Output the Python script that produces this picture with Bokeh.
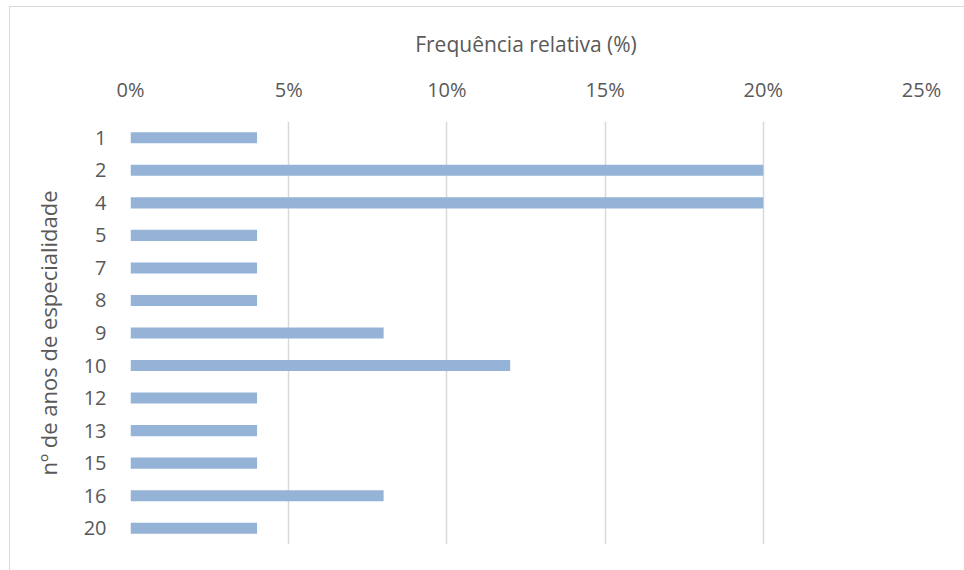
from bokeh.plotting import figure
from bokeh.models import FactorRange, Range1d, FixedTicker, PrintfTickFormatter
from bokeh.embed import file_html
from bokeh.resources import INLINE

# Years of specialty and the relative frequency (%) of each
anos = ["1", "2", "4", "5", "7", "8", "9", "10", "12", "13", "15", "16", "20"]
frequencia = [4, 20, 20, 4, 4, 4, 8, 12, 4, 4, 4, 8, 4]
ticks_x = [0, 5, 10, 15, 20, 25]

FONT = "Open Sans"
TXT = "#595959"
GRID = "#D9D9D9"

p = figure(
    width=955, height=564,
    y_range=FactorRange(factors=list(reversed(anos))),
    x_range=Range1d(0, 25),
    x_axis_location="above",
    output_backend="svg", toolbar_location=None,
    min_border_left=120, min_border_right=44,
    min_border_top=114, min_border_bottom=27,
)
p.margin = (6, 0, 0, 9)
p.styles = {"border-left": "1px solid #d9d9d9", "border-top": "1px solid #d9d9d9"}
p.outline_line_color = None
p.background_fill_color = "white"
p.border_fill_color = "white"

p.hbar(y=anos, right=frequencia, left=0, height=0.34,
       fill_color="#95B3D7", line_color=None)

# horizontal value axis on top
xa = p.xaxis[0]
xa.ticker = FixedTicker(ticks=ticks_x)
xa.formatter = PrintfTickFormatter(format="%d%%")
xa.axis_label = "Frequência relativa (%)"
xa.axis_line_color = None
xa.major_tick_line_color = None
xa.minor_tick_line_color = None
xa.major_label_standoff = 13
xa.axis_label_standoff = 15
xa.major_label_text_font = FONT
xa.major_label_text_font_size = "20px"
xa.major_label_text_color = TXT
xa.axis_label_text_font = FONT
xa.axis_label_text_font_size = "21px"
xa.axis_label_text_font_style = "normal"
xa.axis_label_text_color = TXT

ya = p.yaxis[0]
ya.axis_label = "nº de anos de especialidade"
ya.axis_line_color = None
ya.major_tick_line_color = None
ya.minor_tick_line_color = None
ya.major_label_standoff = 18
ya.axis_label_standoff = 18
ya.major_label_text_font = FONT
ya.major_label_text_font_size = "20px"
ya.major_label_text_color = TXT
ya.axis_label_text_font = FONT
ya.axis_label_text_font_size = "22px"
ya.axis_label_text_font_style = "normal"
ya.axis_label_text_color = TXT

p.xgrid.grid_line_color = GRID
p.xgrid.grid_line_width = 1.5
p.xgrid.ticker = FixedTicker(ticks=ticks_x)
p.ygrid.grid_line_color = None

open("out.html", "w").write(file_html(p, INLINE))
